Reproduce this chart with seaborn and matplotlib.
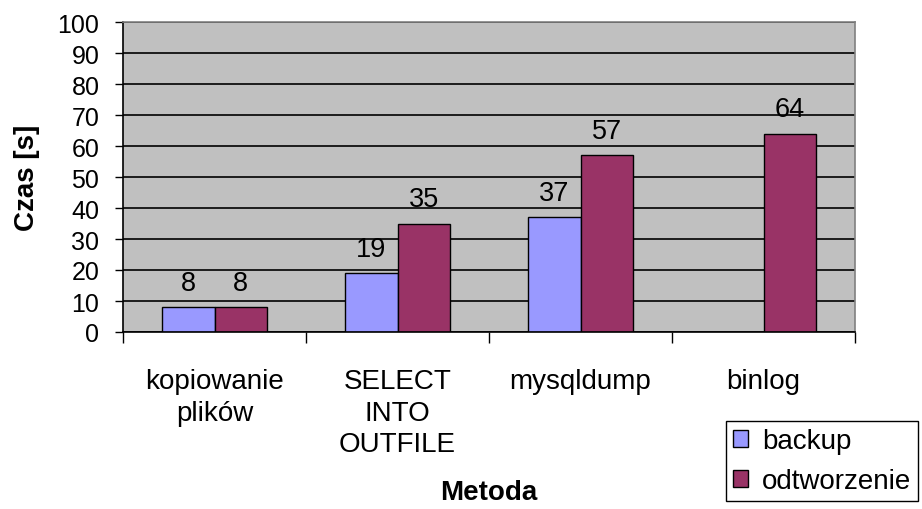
import numpy as np
import pandas as pd
import matplotlib
matplotlib.use("Agg")
import matplotlib.pyplot as plt
import seaborn as sns
from matplotlib.ticker import MultipleLocator, FixedLocator

# Measured backup / restore times per method
methods = ["kopiowanie\nplików", "SELECT\nINTO\nOUTFILE", "mysqldump", "binlog"]
backup = [8, 19, 37, np.nan]
odtworzenie = [8, 35, 57, 64]
series_names = ["backup", "odtworzenie"]
series_colors = ["#9999FF", "#993366"]

df = pd.DataFrame({
    "Metoda": methods * 2,
    "Czas": backup + odtworzenie,
    "Seria": [series_names[0]] * len(methods) + [series_names[1]] * len(methods),
})

sns.set_style("white")
plt.rcParams["font.family"] = ["Liberation Sans", "DejaVu Sans"]
plt.rcParams.update({
    "text.color": "black", "axes.labelcolor": "black",
    "xtick.color": "black", "ytick.color": "black",
})

fig = plt.figure(figsize=(9.22, 5.10), dpi=100)
ax = fig.add_axes([123 / 922, 1 - 333 / 510, (855 - 123) / 922, (333 - 23) / 510])
ax.set_facecolor("#C0C0C0")

sns.barplot(
    data=df, x="Metoda", y="Czas", hue="Seria",
    order=methods, hue_order=series_names,
    palette=series_colors, width=0.57, saturation=1,
    edgecolor="black", linewidth=1.0, ax=ax, legend=True,
)

for cont in ax.containers:
    labels = ["" if np.isnan(v) else f"{v:.0f}" for v in cont.datavalues]
    ax.bar_label(cont, labels=labels, padding=8, fontsize=19.5)

ax.set_ylim(0, 100)
ax.set_xlim(-0.5, len(methods) - 0.5)
ax.yaxis.set_major_locator(MultipleLocator(10))
ax.grid(axis="y", color="black", linewidth=1.2)
ax.set_axisbelow(True)

# Category boundary ticks below the axis, labels centred without marks
ax.xaxis.set_minor_locator(FixedLocator(np.arange(-0.5, len(methods), 1.0)))
ax.tick_params(axis="x", which="major", length=0, pad=26, labelsize=20)
ax.tick_params(axis="x", which="minor", length=8, width=1, color="black", direction="out", bottom=True)
ax.tick_params(axis="y", which="major", length=6, width=1, color="black", direction="out", left=True,
               pad=11, labelsize=18)
for lbl in ax.get_xticklabels():
    lbl.set_linespacing(1.27)

for side in ["left", "bottom"]:
    ax.spines[side].set_color("black")
    ax.spines[side].set_linewidth(1.2)
for side in ["top", "right"]:
    ax.spines[side].set_color("#808080")
    ax.spines[side].set_linewidth(1.2)

ax.set_xlabel("Metoda", fontsize=20, fontweight="bold", va="center")
ax.set_ylabel("Czas [s]", fontsize=20, fontweight="bold", va="center")
ax.xaxis.set_label_coords(0.5, (333 - 493) / 310)
ax.yaxis.set_label_coords((27 - 123) / 732, 0.5)

handles, lbls = ax.get_legend_handles_labels()
ax.legend(
    handles, lbls, loc="lower right",
    bbox_to_anchor=(918 / 922, 1 - 502 / 510), bbox_transform=fig.transFigure,
    fontsize=20, frameon=True, fancybox=False, edgecolor="black", framealpha=1,
    handlelength=0.55, handleheight=0.55, handletextpad=0.5, borderpad=0.25,
    labelspacing=0.5, borderaxespad=0,
)
ax.get_legend().get_frame().set_linewidth(1.0)

fig.savefig("out.png", dpi=100, facecolor="white")
